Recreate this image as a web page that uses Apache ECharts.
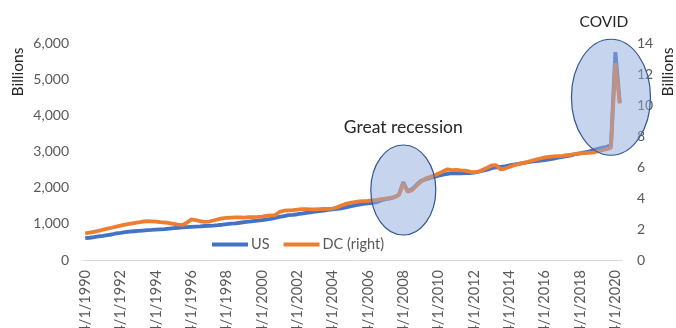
<!DOCTYPE html>
<html>
<head>
<meta charset="utf-8">
<script src="https://cdn.jsdelivr.net/npm/echarts@6/dist/echarts.min.js"></script>
<style>
  html, body { margin: 0; padding: 0; background: #fff; }
  #chart { width: 676px; height: 328px; }
</style>
</head>
<body>
<div id="chart"></div>
<script>
// Quarterly dates, 4/1/1990 through 7/1/2020
const startYear = 1990, startQuarter = 1, quarterCount = 122;
const quarterMonths = [1, 4, 7, 10];
const categories = [];
for (let i = 0; i < quarterCount; i++) {
  const q = startQuarter + i;
  categories.push(quarterMonths[q % 4] + '/1/' + (startYear + Math.floor(q / 4)));
}

// US, billions of dollars (left axis)
const usValues = [
  605, 615, 630,
  650, 668, 688, 705,
  735, 752, 770, 785,
  795, 805, 815, 825,
  832, 840, 848, 855,
  868, 880, 892, 900,
  910, 918, 925, 932,
  940, 945, 952, 962,
  975, 990, 1005, 1015,
  1030, 1045, 1060, 1075,
  1090, 1105, 1120, 1140,
  1165, 1190, 1215, 1240,
  1250, 1265, 1285, 1305,
  1320, 1335, 1350, 1365,
  1385, 1400, 1415, 1430,
  1455, 1480, 1510, 1530,
  1550, 1565, 1580, 1600,
  1650, 1680, 1705, 1740,
  1800, 2150, 1900, 1960,
  2080, 2190, 2230, 2270,
  2300, 2330, 2360, 2380,
  2400, 2395, 2395, 2400,
  2405, 2415, 2440, 2470,
  2500, 2540, 2560, 2575,
  2590, 2615, 2640, 2660,
  2680, 2700, 2720, 2735,
  2750, 2765, 2780, 2800,
  2830, 2850, 2870, 2890,
  2930, 2950, 2975, 3000,
  3040, 3070, 3100, 3130,
  3170, 5750, 4350
];

// DC, billions of dollars (right axis)
const dcValues = [
  1.72, 1.76, 1.82,
  1.88, 1.95, 2.02, 2.08,
  2.15, 2.22, 2.28, 2.33,
  2.38, 2.42, 2.48, 2.50,
  2.49, 2.47, 2.44, 2.42,
  2.38, 2.33, 2.28, 2.26,
  2.40, 2.62, 2.58, 2.50,
  2.46, 2.48, 2.55, 2.62,
  2.68, 2.72, 2.74, 2.75,
  2.75, 2.74, 2.76, 2.77,
  2.78, 2.80, 2.84, 2.88,
  2.90, 3.10, 3.18, 3.20,
  3.22, 3.25, 3.28, 3.28,
  3.27, 3.26, 3.28, 3.30,
  3.30, 3.32, 3.40, 3.52,
  3.62, 3.68, 3.74, 3.78,
  3.80, 3.82, 3.85, 3.88,
  3.92, 3.96, 4.00, 4.05,
  4.20, 4.95, 4.40, 4.50,
  4.80, 5.05, 5.25, 5.35,
  5.45, 5.58, 5.72, 5.85,
  5.80, 5.82, 5.78, 5.76,
  5.70, 5.66, 5.70, 5.82,
  5.95, 6.10, 6.12, 5.85,
  5.90, 6.00, 6.10, 6.18,
  6.25, 6.32, 6.40, 6.48,
  6.55, 6.62, 6.65, 6.68,
  6.70, 6.72, 6.76, 6.80,
  6.85, 6.88, 6.90, 6.92,
  6.95, 7.00, 7.08, 7.15,
  7.25, 12.7, 10.1
];

const seriesNames = ['US', 'DC (right)'];
const leftAxisMax = 6000, leftAxisStep = 1000;
const rightAxisMax = 14, rightAxisStep = 2;

// Highlighted episodes: [label, category index, left-axis value at centre]
const episodes = [
  { label: 'Great recession', index: 72, value: 1935 },
  { label: 'COVID', index: 118.6, value: 4500 }
];

const FONT = 'Lato, "Open Sans", sans-serif';
const GREY = '#595959';

const chart = echarts.init(document.getElementById('chart'), null, { renderer: 'canvas' });

chart.setOption({
  animation: false,
  backgroundColor: '#fff',
  textStyle: { fontFamily: FONT },
  grid: { left: 83, right: 54, top: 43, bottom: 68, containLabel: false, outerBoundsMode: 'none' },
  legend: {
    data: seriesNames,
    left: 207, top: 232,
    icon: 'rect', itemWidth: 36, itemHeight: 4, itemGap: 14,
    textStyle: { color: GREY, fontSize: 14.5, fontFamily: FONT, padding: [0, 0, 0, -2] }
  },
  xAxis: {
    type: 'category',
    data: categories,
    boundaryGap: true,
    axisLine: { lineStyle: { color: '#d9d9d9', width: 1 } },
    axisTick: { show: false },
    axisLabel: {
      interval: 7, rotate: 90, margin: 10,
      color: GREY, fontSize: 14.5, fontFamily: FONT
    },
    splitLine: { show: false }
  },
  yAxis: [
    {
      type: 'value', min: 0, max: leftAxisMax, interval: leftAxisStep,
      axisLine: { show: false }, axisTick: { show: false }, splitLine: { show: false },
      axisLabel: {
        margin: 14, color: GREY, fontSize: 14, fontFamily: FONT,
        formatter: v => v.toLocaleString('en-US')
      }
    },
    {
      type: 'value', min: 0, max: rightAxisMax, interval: rightAxisStep, position: 'right',
      axisLine: { show: false }, axisTick: { show: false }, splitLine: { show: false },
      axisLabel: { margin: 15, color: GREY, fontSize: 14, fontFamily: FONT }
    }
  ],
  series: [
    {
      name: seriesNames[0], type: 'line', data: usValues, yAxisIndex: 0,
      showSymbol: false, symbol: 'none', z: 2,
      lineStyle: { color: '#4472c4', width: 3.8 },
      itemStyle: { color: '#4472c4' }
    },
    {
      name: seriesNames[1], type: 'line', data: dcValues, yAxisIndex: 1,
      showSymbol: false, symbol: 'none', z: 3,
      lineStyle: { color: '#ed7d31', width: 3.8 },
      itemStyle: { color: '#ed7d31' }
    }
  ]
});

// Axis titles, episode ellipses and their captions
function toPx(index, value) {
  return chart.convertToPixel({ xAxisIndex: 0, yAxisIndex: 0 }, [index, value]);
}
const recession = toPx(episodes[0].index, episodes[0].value);
const covid = toPx(episodes[1].index, episodes[1].value);

const ellipseStyle = { fill: 'rgba(143,170,220,0.5)', stroke: '#2f5597', lineWidth: 1.2 };

chart.setOption({
  graphic: [
    {
      type: 'ellipse', z: 100,
      shape: { cx: recession[0], cy: recession[1], rx: 32.5, ry: 45 },
      style: ellipseStyle
    },
    {
      type: 'ellipse', z: 100,
      shape: { cx: covid[0], cy: covid[1], rx: 39.5, ry: 58 },
      style: ellipseStyle
    },
    {
      type: 'text', z: 101,
      x: recession[0], y: recession[1] - 63,
      style: { text: episodes[0].label, fill: '#262626', font: '17.5px ' + FONT, align: 'center', verticalAlign: 'middle' }
    },
    {
      type: 'text', z: 101,
      x: covid[0] - 7, y: covid[1] - 75,
      style: { text: episodes[1].label, fill: '#262626', font: '15.5px ' + FONT, align: 'center', verticalAlign: 'middle' }
    },
    {
      type: 'text', x: 18, y: 72, rotation: Math.PI / 2,
      style: { text: 'Billions', fill: '#262626', font: '15.5px ' + FONT, align: 'center', verticalAlign: 'middle' }
    },
    {
      type: 'text', x: 668, y: 72, rotation: Math.PI / 2,
      style: { text: 'Billions', fill: '#262626', font: '15.5px ' + FONT, align: 'center', verticalAlign: 'middle' }
    }
  ]
});
</script>
</body>
</html>
